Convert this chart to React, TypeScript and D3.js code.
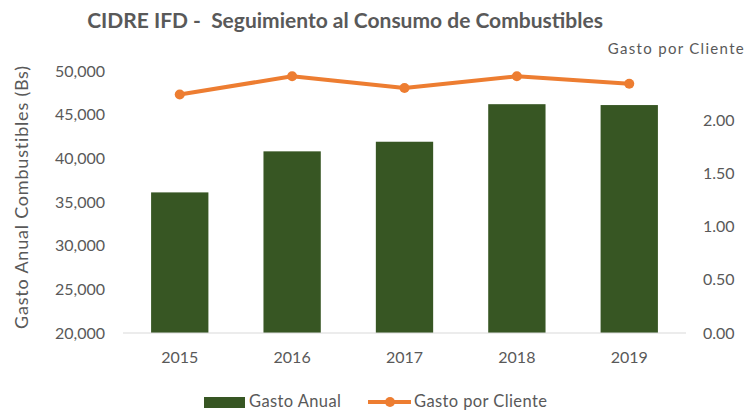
import React from 'react';
import * as d3 from 'd3';

const years = ['2015', '2016', '2017', '2018', '2019'];
const gastoAnual = [36100, 40800, 41900, 46200, 46100];
const gastoPorCliente = [2.24, 2.41, 2.3, 2.41, 2.34];
const leftTicks = [20000, 25000, 30000, 35000, 40000, 45000, 50000];
const rightTicks = [0, 0.5, 1, 1.5, 2];

const W = 749;
const H = 411;
const FONT = 'Lato, "Open Sans", sans-serif';
const GREY = '#595959';
const GREEN = '#375623';
const ORANGE = '#ED7D31';

export default function App() {
  // plot area
  const left = 123;
  const right = 686;
  const top = 71;
  const bottom = 333;

  const x = d3.scaleBand().domain(years).range([left, right]).paddingInner(0.49).paddingOuter(0.25);
  const y = d3.scaleLinear().domain([20000, 50000]).range([bottom, top]);
  const y2 = d3.scaleLinear().domain([0, 2.46]).range([bottom, top]);

  const cx = (i: number) => (x(years[i]) as number) + x.bandwidth() / 2;

  const line = d3
    .line<number>()
    .x((_, i) => cx(i))
    .y((d) => y2(d));

  const fmt = d3.format(',');

  return (
    <svg width={W} height={H} style={{ position: 'absolute', left: 0, top: 0, background: '#fff' }}>
      <text
        x={345}
        y={28}
        textAnchor="middle"
        fontFamily={FONT}
        fontWeight="bold"
        fontSize={21}
        fill={GREY}
        style={{ whiteSpace: 'pre' }}
      >
        {'CIDRE IFD -  Seguimiento al Consumo de Combustibles'}
      </text>

      {/* bars */}
      {years.map((yr, i) => (
        <rect
          key={yr}
          x={x(yr)}
          y={y(gastoAnual[i])}
          width={x.bandwidth()}
          height={bottom - y(gastoAnual[i])}
          fill={GREEN}
        />
      ))}

      {/* baseline */}
      <line x1={left} x2={right} y1={bottom} y2={bottom} stroke="#d9d9d9" strokeWidth={1} />

      {/* line series */}
      <path d={line(gastoPorCliente) || ''} fill="none" stroke={ORANGE} strokeWidth={4} strokeLinejoin="round" />
      {gastoPorCliente.map((v, i) => (
        <circle key={i} cx={cx(i)} cy={y2(v)} r={5} fill={ORANGE} />
      ))}

      {/* left axis */}
      {leftTicks.map((t) => (
        <text key={t} x={105} y={y(t)} dy="0.35em" textAnchor="end" fontFamily={FONT} fontSize={16} fill={GREY}>
          {fmt(t)}
        </text>
      ))}
      <text
        transform={`translate(22,${(top + bottom) / 2 - 5}) rotate(-90)`}
        textAnchor="middle"
        dy="0.35em"
        fontFamily={FONT}
        fontSize={18}
        letterSpacing={0.8}
        fill={GREY}
      >
        Gasto Anual Combustibles (Bs)
      </text>

      {/* right axis */}
      {rightTicks.map((t) => (
        <text key={t} x={703} y={y2(t)} dy="0.35em" textAnchor="start" fontFamily={FONT} fontSize={16} fill={GREY}>
          {t.toFixed(2)}
        </text>
      ))}
      <text x={745} y={49} dy="0.35em" textAnchor="end" fontFamily={FONT} fontSize={15} fill={GREY} letterSpacing={1.3}>
        Gasto por Cliente
      </text>

      {/* x axis labels */}
      {years.map((yr, i) => (
        <text key={yr} x={cx(i)} y={357} dy="0.35em" textAnchor="middle" fontFamily={FONT} fontSize={16} fill={GREY}>
          {yr}
        </text>
      ))}

      {/* legend */}
      <rect x={204} y={397} width={41} height={11} fill={GREEN} />
      <text x={249} y={401} dy="0.35em" fontFamily={FONT} fontSize={16.5} letterSpacing={0.4} fill={GREY}>
        Gasto Anual
      </text>
      <line x1={368} x2={411} y1={402} y2={402} stroke={ORANGE} strokeWidth={4} />
      <circle cx={390} cy={402} r={5} fill={ORANGE} />
      <text x={414} y={401} dy="0.35em" fontFamily={FONT} fontSize={16.5} letterSpacing={0.4} fill={GREY}>
        Gasto por Cliente
      </text>
    </svg>
  );
}
